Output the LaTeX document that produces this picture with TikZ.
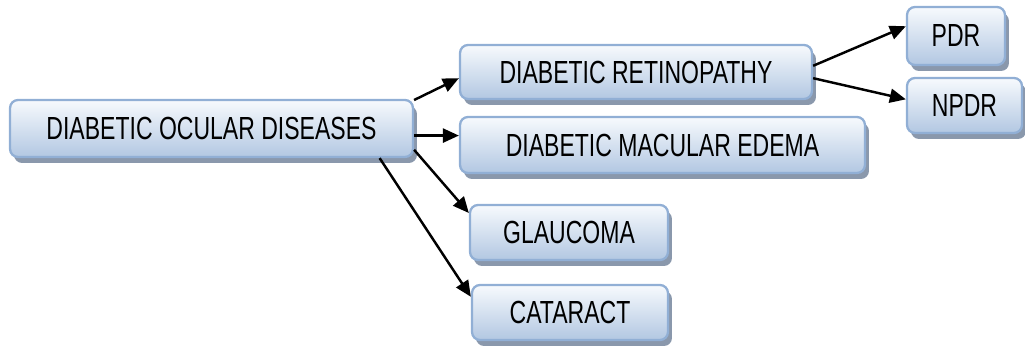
\documentclass[tikz,border=0pt]{standalone}
\usepackage{fontspec}
\setmainfont{Liberation Sans}[FakeStretch=0.72]
\usepackage{xcolor}
\usepackage{tikz}
\usetikzlibrary{positioning,arrows.meta,shadows}
\definecolor{boxborder}{RGB}{145,175,213}
\definecolor{boxtop}{RGB}{247,250,253}
\definecolor{boxbottom}{RGB}{178,199,226}
\definecolor{boxshadow}{RGB}{138,152,172}
\tikzstyle{disease} = [rectangle, rounded corners=0.16cm, draw=boxborder, line width=1.3pt, top color=boxtop, bottom color=boxbottom, drop shadow={shadow xshift=0.08cm, shadow yshift=-0.12cm, fill=boxshadow, opacity=1}, inner sep=0pt, text centered, font=\fontsize{18.2}{22}\selectfont]
\tikzstyle{arrow} = [line width=1.4pt, -{Triangle[length=0.32cm,width=0.28cm]}]
\begin{document}
\begin{tikzpicture}[x=0.02cm, y=-0.02cm]
		\useasboundingbox (0,0) rectangle (1025,347);
		\coordinate (main) at (211.5,128.5);
		\coordinate (dr) at (636,72);
		\coordinate (dme) at (662.5,145);
		\coordinate (glaucoma) at (569,232.5);
		\coordinate (cataract) at (570,312.5);
		\coordinate (pdr) at (956,36);
		\coordinate (npdr) at (964.5,105.5);
		% Root
		\begin{scope}[every node/.style={disease}]
		\node[name=main, minimum width=8.06cm, minimum height=1.14cm] at (main) {DIABETIC OCULAR DISEASES};
		\end{scope}
		% Diseases
		\begin{scope}[every node/.style={disease, minimum height=1.1cm}]
		\node[name=dr, minimum width=7.04cm, minimum height=1.08cm] at (dr) {DIABETIC RETINOPATHY};
		\node[name=dme, minimum width=8.1cm, minimum height=1.12cm] at (dme) {DIABETIC MACULAR EDEMA};
		\node[name=glaucoma, minimum width=3.96cm] at (glaucoma) {GLAUCOMA};
		\node[name=cataract, minimum width=3.92cm] at (cataract) {CATARACT};
		\end{scope}
		% Retinopathy types
		\begin{scope}[every node/.style={disease}]
		\node[name=pdr, minimum width=1.96cm, minimum height=1.16cm] at (pdr) {PDR};
		\node[name=npdr, minimum width=2.3cm, minimum height=1.1cm] at (npdr) {NPDR};
		\end{scope}
		\draw [arrow] (main.8.5)--(dr.182);
		\draw [arrow] (main.-2)--(main.-2 -| dme.west);
		\draw [arrow] (main.-6)--(glaucoma.169);
		\draw [arrow] (main.-10)--(cataract.171);
		\draw [arrow] (dr.2.6)--(pdr.169.6);
		\draw [arrow] (dr.-2.3)--(npdr.174.5);
\end{tikzpicture}
\end{document}
